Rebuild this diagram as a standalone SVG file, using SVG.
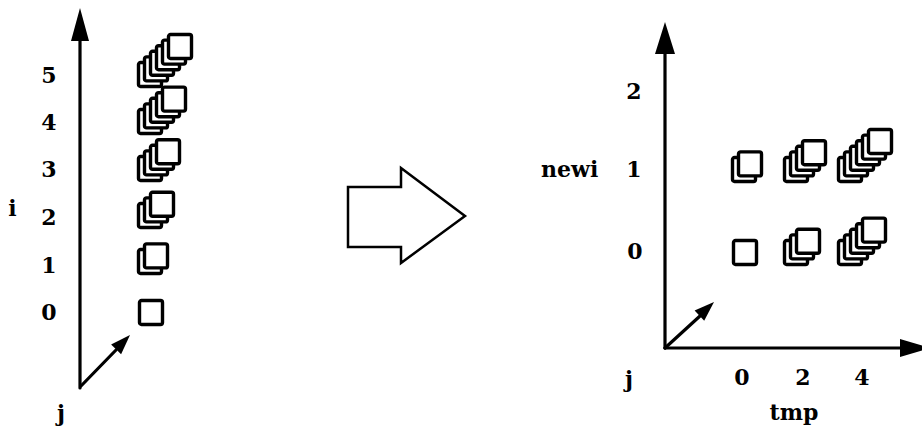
<svg xmlns="http://www.w3.org/2000/svg" width="922" height="433" viewBox="0 0 922 433">
<defs>
<style>
.ax{stroke:#000;stroke-width:3.2;fill:none;stroke-linecap:round}
.ah{fill:#000;stroke:none}
.sq{fill:#fff;stroke:#000;stroke-width:3.4}
.lb{font-family:"DejaVu Serif",serif;font-weight:bold;font-size:22px;fill:#000}
.c{text-anchor:middle}
</style>
<rect id="s" width="23" height="24" rx="2"/>
</defs>
<rect width="922" height="433" fill="#fff"/>
<g id="connectors">
<line class="ax" x1="80" y1="38" x2="80" y2="388"/>
<polygon class="ah" points="80,8 71,41 89,41"/>
<line class="ax" x1="81" y1="386" x2="116" y2="350"/>
<polygon class="ah" points="130,335 121.1,354.3 111.1,344.6"/>
<line class="ax" x1="665" y1="52" x2="665" y2="348"/>
<polygon class="ah" points="665,22 655,54 675,54"/>
<line class="ax" x1="665" y1="348" x2="902" y2="348"/>
<polygon class="ah" points="900,339 930,348 900,357"/>
<line class="ax" x1="665" y1="348" x2="700" y2="316"/>
<polygon class="ah" points="714,302 704.2,320.8 694.6,310.6"/>
</g>
<g id="transform-arrow">
<polygon points="348,187 401,187 401,168 465,216 401,263 401,247 348,247" fill="#fff" stroke="#000" stroke-width="2.5" stroke-linejoin="miter"/>
</g>
<g id="left-labels" class="lb">
<text class="c" x="49" y="83">5</text>
<text class="c" x="49" y="130">4</text>
<text class="c" x="49" y="177">3</text>
<text class="c" x="49" y="225">2</text>
<text class="c" x="49" y="273">1</text>
<text class="c" x="49" y="320">0</text>
<text class="c" x="12.5" y="216">i</text>
<text class="c" x="61" y="421">j</text>
</g>
<g id="right-labels" class="lb">
<text class="c" x="634" y="99">2</text>
<text class="c" x="634" y="177">1</text>
<text class="c" x="635" y="259">0</text>
<text x="541" y="177">newi</text>
<text class="c" x="742" y="385">0</text>
<text class="c" x="803" y="385">2</text>
<text class="c" x="862" y="385">4</text>
<text class="c" x="794" y="420">tmp</text>
<text class="c" x="629" y="387">j</text>
</g>
<g id="left-i0" class="sq"><use href="#s" x="139.5" y="300.5"/></g>
<g id="left-i1" class="sq"><use href="#s" x="138.5" y="249.5"/><use href="#s" x="144.5" y="243.9"/></g>
<g id="left-i2" class="sq"><use href="#s" x="138.5" y="203.5"/><use href="#s" x="144.5" y="197.9"/><use href="#s" x="150.5" y="192.3"/></g>
<g id="left-i3" class="sq"><use href="#s" x="138.5" y="156.5"/><use href="#s" x="144.5" y="150.9"/><use href="#s" x="150.5" y="145.3"/><use href="#s" x="156.5" y="139.7"/></g>
<g id="left-i4" class="sq"><use href="#s" x="138.5" y="109.5"/><use href="#s" x="144.5" y="103.9"/><use href="#s" x="150.5" y="98.3"/><use href="#s" x="156.5" y="92.7"/><use href="#s" x="162.5" y="87.1"/></g>
<g id="left-i5" class="sq"><use href="#s" x="138.5" y="62.5"/><use href="#s" x="144.5" y="56.9"/><use href="#s" x="150.5" y="51.3"/><use href="#s" x="156.5" y="45.7"/><use href="#s" x="162.5" y="40.1"/><use href="#s" x="168.5" y="34.5"/></g>
<g id="right-0-0" class="sq"><use href="#s" x="733.5" y="240.5"/></g>
<g id="right-0-2" class="sq"><use href="#s" x="784.5" y="240.5"/><use href="#s" x="790.5" y="234.9"/><use href="#s" x="796.5" y="229.3"/></g>
<g id="right-0-4" class="sq"><use href="#s" x="838.5" y="240.5"/><use href="#s" x="844.5" y="234.9"/><use href="#s" x="850.5" y="229.3"/><use href="#s" x="856.5" y="223.7"/><use href="#s" x="862.5" y="218.1"/></g>
<g id="right-1-0" class="sq"><use href="#s" x="732.5" y="157.5"/><use href="#s" x="738.5" y="151.9"/></g>
<g id="right-1-2" class="sq"><use href="#s" x="784.5" y="157.5"/><use href="#s" x="790.5" y="151.9"/><use href="#s" x="796.5" y="146.3"/><use href="#s" x="802.5" y="140.7"/></g>
<g id="right-1-4" class="sq"><use href="#s" x="838.5" y="157.5"/><use href="#s" x="844.5" y="151.9"/><use href="#s" x="850.5" y="146.3"/><use href="#s" x="856.5" y="140.7"/><use href="#s" x="862.5" y="135.1"/><use href="#s" x="868.5" y="129.5"/></g>
</svg>
